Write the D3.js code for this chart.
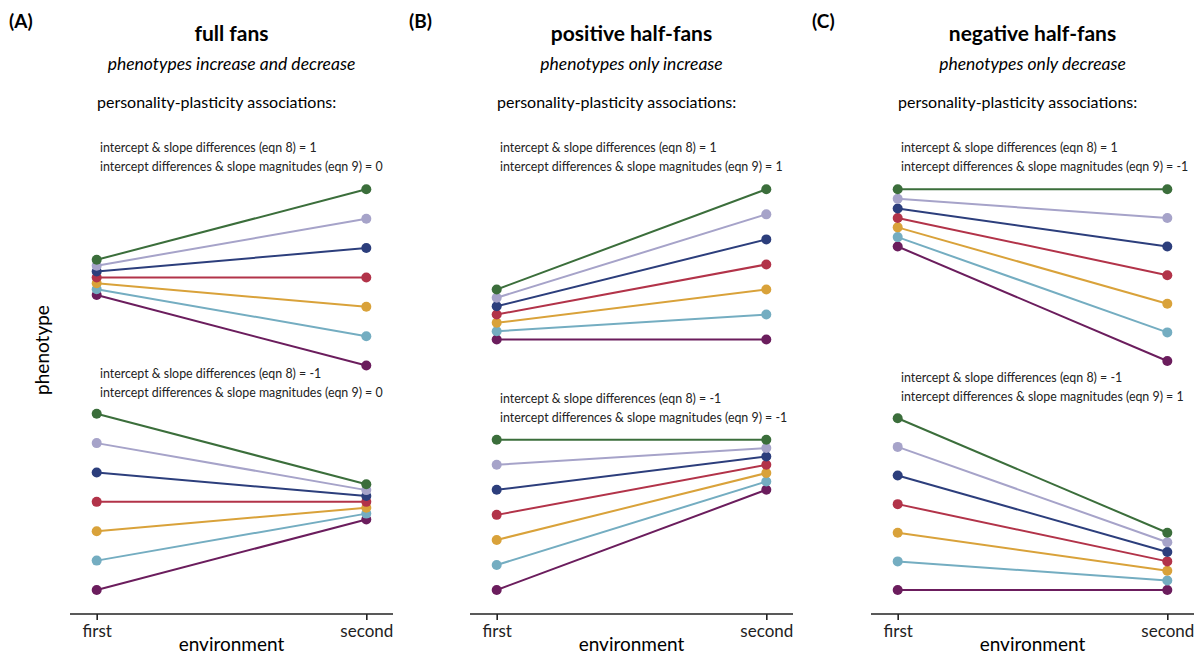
<!DOCTYPE html>
<html>
<head>
<meta charset="utf-8">
<script src="https://cdn.jsdelivr.net/npm/d3@7"></script>
<style>
  body { margin: 0; background: #fff; }
  svg { display: block; font-family: Lato, "Open Sans", sans-serif; }
  .axis path, .axis line { stroke: #222; stroke-width: 1.6; }
  .axis text { font-size: 17px; fill: #222; font-family: Lato, sans-serif; }
</style>
</head>
<body>
<div class="chart"></div>
<script>
// individuals, bottom to top
var colours = ['#6b1d5d', '#74adc1', '#d9a23a', '#b23349', '#2c3e7c', '#a6a3c9', '#3b6e3b'];
var environments = ['first', 'second'];

// panel A: full fans
var fullTopFirst = [10.04, 10.24, 10.44, 10.64, 10.84, 11.04, 11.24];
var fullTopSecond = [7.64, 8.64, 9.64, 10.64, 11.64, 12.64, 13.64];
var fullBottomFirst = [0, 1, 2, 3, 4, 5, 6];
var fullBottomSecond = [2.4, 2.6, 2.8, 3.0, 3.2, 3.4, 3.6];

// panel B: positive half-fans
var posTopFirst = [10, 10.33, 10.67, 11, 11.33, 11.67, 12];
var posTopSecond = [10, 11, 12, 13, 14, 15, 16];
var posBottomFirst = [0, 1, 2, 3, 4, 5, 6];
var posBottomSecond = [4, 4.33, 4.67, 5, 5.33, 5.67, 6];

// panel C: negative half-fans
var negTopFirst = [12, 12.33, 12.67, 13, 13.33, 13.67, 14];
var negTopSecond = [8, 9, 10, 11, 12, 13, 14];
var negBottomFirst = [0, 1, 2, 3, 4, 5, 6];
var negBottomSecond = [0, 0.33, 0.67, 1, 1.33, 1.67, 2];

var panelLetters = ['(A)', '(B)', '(C)'];
var titles = ['full fans', 'positive half-fans', 'negative half-fans'];
var subtitles = ['phenotypes increase and decrease', 'phenotypes only increase', 'phenotypes only decrease'];
var topEqn8 = ['1', '1', '1'];
var topEqn9 = ['0', '1', '-1'];
var bottomEqn8 = ['-1', '-1', '-1'];
var bottomEqn9 = ['0', '-1', '1'];

var panels = [
	{ top: [fullTopFirst, fullTopSecond], bottom: [fullBottomFirst, fullBottomSecond], max: 13.64, left: 70, noteY: [152, 378] },
	{ top: [posTopFirst, posTopSecond], bottom: [posBottomFirst, posBottomSecond], max: 16, left: 470, noteY: [152, 403] },
	{ top: [negTopFirst, negTopSecond], bottom: [negBottomFirst, negBottomSecond], max: 14, left: 871, noteY: [152, 382] }
];

var width = 1204, height = 657,
    axisWidth = 323, axisY = 614;

var svg = d3.select('.chart').append('svg')
	.attr('width', width)
	.attr('height', height);

svg.append('text')
	.attr('transform', 'translate(49, 350) rotate(-90)')
	.attr('text-anchor', 'middle')
	.style('font-size', '19px')
	.text('phenotype');

panels.forEach(function(p, k) {
	var g = svg.append('g');
	var x = d3.scalePoint().domain(environments).range([p.left, p.left + axisWidth]).padding(0.099);
	var y = d3.scaleLinear().domain([0, p.max]).range([590, 189.3]);
	var mid = p.left + axisWidth / 2;

	g.append('text')
		.attr('x', p.left - 61 + (k === 2 ? 2 : 0))
		.attr('y', 28)
		.style('font-size', '19px')
		.style('font-weight', 'bold')
		.text(panelLetters[k]);
	g.append('text')
		.attr('x', mid).attr('y', 41)
		.attr('text-anchor', 'middle')
		.style('font-size', '21px')
		.style('font-weight', 'bold')
		.text(titles[k]);
	g.append('text')
		.attr('x', mid).attr('y', 70)
		.attr('text-anchor', 'middle')
		.style('font-size', '17.5px')
		.style('font-style', 'italic')
		.text(subtitles[k]);
	g.append('text')
		.attr('x', p.left + 27).attr('y', 108)
		.style('font-size', '16px')
		.text('personality-plasticity associations:');

	// notes above each fan
	[[topEqn8[k], topEqn9[k]], [bottomEqn8[k], bottomEqn9[k]]].forEach(function(eq, j) {
		var t = g.append('text')
			.attr('x', p.left + 30)
			.attr('y', p.noteY[j])
			.style('font-size', '12.4px')
			.style('fill', '#222');
		t.append('tspan').attr('x', p.left + 30).text('intercept & slope differences (eqn 8) = ' + eq[0]);
		t.append('tspan').attr('x', p.left + 30).attr('dy', 19).text('intercept differences & slope magnitudes (eqn 9) = ' + eq[1]);
	});

	[p.top, p.bottom].forEach(function(fan) {
		var rows = colours.map(function(c, i) {
			return { colour: c, values: [fan[0][i], fan[1][i]] };
		});
		var lines = g.append('g').selectAll('g').data(rows).enter().append('g');
		lines.append('line')
			.attr('x1', x('first')).attr('x2', x('second'))
			.attr('y1', function(d) { return y(d.values[0]); })
			.attr('y2', function(d) { return y(d.values[1]); })
			.attr('stroke', function(d) { return d.colour; })
			.attr('stroke-width', 2);
		lines.selectAll('circle').data(function(d) { return d.values.map(function(v, i) { return { v: v, i: i, colour: d.colour }; }); })
			.enter().append('circle')
			.attr('cx', function(d) { return x(environments[d.i]); })
			.attr('cy', function(d) { return y(d.v); })
			.attr('r', 5)
			.attr('fill', function(d) { return d.colour; });
	});

	var axis = g.append('g')
		.attr('class', 'axis')
		.attr('transform', 'translate(0,' + axisY + ')')
		.call(d3.axisBottom(x).tickSize(6).tickSizeOuter(0).tickPadding(5));
	axis.select('.domain').attr('d', 'M' + p.left + ',0H' + (p.left + axisWidth));

	g.append('text')
		.attr('x', mid).attr('y', 651)
		.attr('text-anchor', 'middle')
		.style('font-size', '19px')
		.text('environment');
});
</script>
</body>
</html>
